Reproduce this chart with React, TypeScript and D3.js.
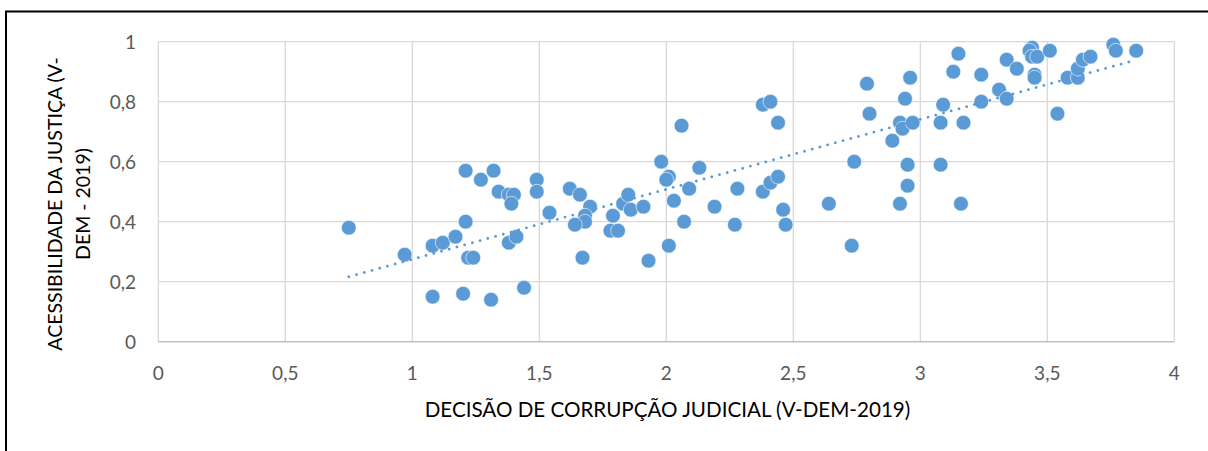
import React from "react";
import * as d3 from "d3";

const xValues = [
  0.75, 0.97, 1.08, 1.08, 1.12, 1.17, 1.21, 1.21, 1.2, 1.22, 1.24, 1.27, 1.32, 1.34, 1.31,
  1.38, 1.4, 1.39, 1.38, 1.41, 1.44, 1.49, 1.49, 1.54, 1.62, 1.66, 1.7, 1.68, 1.68, 1.64,
  1.67, 1.79, 1.78, 1.81, 1.83, 1.85, 1.86, 1.91, 1.93, 1.98, 2.01, 2.0, 2.06, 2.03, 2.07,
  2.01, 2.09, 2.13, 2.19, 2.28, 2.27, 2.38, 2.41, 2.44, 2.38, 2.41, 2.44, 2.46, 2.47, 2.64,
  2.73, 2.74, 2.79, 2.8, 2.89, 2.92, 2.93, 2.97, 2.94, 2.96, 2.95, 2.95, 2.92, 3.08, 3.09,
  3.08, 3.15, 3.13, 3.17, 3.16, 3.24, 3.24, 3.31, 3.34, 3.34, 3.38, 3.44, 3.43, 3.44, 3.46,
  3.45, 3.45, 3.51, 3.54, 3.58, 3.62, 3.62, 3.64, 3.67, 3.76, 3.77, 3.85,
];
const yValues = [
  0.38, 0.29, 0.15, 0.32, 0.33, 0.35, 0.57, 0.4, 0.16, 0.28, 0.28, 0.54, 0.57, 0.5, 0.14,
  0.49, 0.49, 0.46, 0.33, 0.35, 0.18, 0.54, 0.5, 0.43, 0.51, 0.49, 0.45, 0.42, 0.4, 0.39,
  0.28, 0.42, 0.37, 0.37, 0.46, 0.49, 0.44, 0.45, 0.27, 0.6, 0.55, 0.54, 0.72, 0.47, 0.4,
  0.32, 0.51, 0.58, 0.45, 0.51, 0.39, 0.79, 0.8, 0.73, 0.5, 0.53, 0.55, 0.44, 0.39, 0.46,
  0.32, 0.6, 0.86, 0.76, 0.67, 0.73, 0.71, 0.73, 0.81, 0.88, 0.59, 0.52, 0.46, 0.73, 0.79,
  0.59, 0.96, 0.9, 0.73, 0.46, 0.89, 0.8, 0.84, 0.81, 0.94, 0.91, 0.98, 0.97, 0.95, 0.95,
  0.89, 0.88, 0.97, 0.76, 0.88, 0.88, 0.91, 0.94, 0.95, 0.99, 0.97, 0.97,
];

const xTicks = [0, 0.5, 1, 1.5, 2, 2.5, 3, 3.5, 4];
const yTicks = [0, 0.2, 0.4, 0.6, 0.8, 1];
const xTitle = "DECISÃO DE CORRUPÇÃO JUDICIAL (V-DEM-2019)";
const yTitleLines = ["ACESSIBILIDADE DA JUSTIÇA (V-", "DEM - 2019)"];

const W = 1208;
const H = 451;
const FONT = "Lato, 'Open Sans', sans-serif";
const BLUE = "#5B9BD5";

const fmt = (v: number) => String(v).replace(".", ",");

export default function App() {
  const x = d3.scaleLinear().domain([0, 4]).range([158.3, 1174.3]);
  const y = d3.scaleLinear().domain([0, 1]).range([341.7, 41.7]);

  const pts = xValues.map((v, i) => [v, yValues[i]] as [number, number]);
  const mx = d3.mean(xValues)!;
  const my = d3.mean(yValues)!;
  let sxy = 0;
  let sxx = 0;
  pts.forEach(([a, b]) => {
    sxy += (a - mx) * (b - my);
    sxx += (a - mx) * (a - mx);
  });
  const slope = sxy / sxx;
  const icpt = my - slope * mx;
  const [x0, x1] = d3.extent(xValues) as [number, number];
  const line = d3
    .line<number>()
    .x((d) => x(d))
    .y((d) => y(icpt + slope * d));

  return (
    <svg
      width={W}
      height={H}
      style={{ position: "absolute", left: 0, top: 0, background: "#fff" }}
    >
      <rect x={0} y={0} width={W} height={H} fill="#fff" />
      <rect x={6} y={11.5} width={W + 20} height={H + 20} fill="none" stroke="#000" strokeWidth={2} />
      {/* grid */}
      {yTicks.map((t) => (
        <line
          key={"gy" + t}
          x1={x(0)}
          x2={x(4)}
          y1={y(t)}
          y2={y(t)}
          stroke={t === 0 ? "#BFBFBF" : "#D9D9D9"}
          strokeWidth={1.3}
        />
      ))}
      {xTicks.map((t) => (
        <line
          key={"gx" + t}
          x1={x(t)}
          x2={x(t)}
          y1={y(1)}
          y2={y(0)}
          stroke="#D9D9D9"
          strokeWidth={1.3}
        />
      ))}
      <line x1={x(0)} x2={x(4)} y1={y(0)} y2={y(0)} stroke="#BFBFBF" strokeWidth={1.3} />
      {/* tick labels */}
      {yTicks.map((t) => (
        <text
          key={"ty" + t}
          x={136}
          y={y(t)}
          dy="0.36em"
          textAnchor="end"
          fontFamily={FONT}
          fontSize={19}
          fill="#595959"
        >
          {fmt(t)}
        </text>
      ))}
      {xTicks.map((t) => (
        <text
          key={"tx" + t}
          x={x(t)}
          y={373}
          dy="0.36em"
          textAnchor="middle"
          fontFamily={FONT}
          fontSize={19}
          fill="#595959"
        >
          {fmt(t)}
        </text>
      ))}
      {/* axis titles */}
      <text
        x={667.5}
        y={410}
        dy="0.36em"
        textAnchor="middle"
        fontFamily={FONT}
        fontSize={20.6}
        fill="#000"
      >
        {xTitle}
      </text>
      {yTitleLines.map((s, i) => (
        <text
          key={s}
          transform={`translate(${55 + i * 28},204) rotate(-90)`}
          dy="0.36em"
          textAnchor="middle"
          fontFamily={FONT}
          fontSize={19.5}
          fill="#000"
        >
          {s}
        </text>
      ))}
      {/* points */}
      {pts.map(([a, b], i) => (
        <circle key={i} cx={x(a)} cy={y(b)} r={7.4} fill={BLUE} stroke="#fff" strokeWidth={0.6} />
      ))}
      {/* trendline */}
      <path
        d={line([x0, x1])!}
        fill="none"
        stroke={BLUE}
        strokeWidth={2.8}
        strokeLinecap="round"
        strokeDasharray="0.01 8"
      />
    </svg>
  );
}
